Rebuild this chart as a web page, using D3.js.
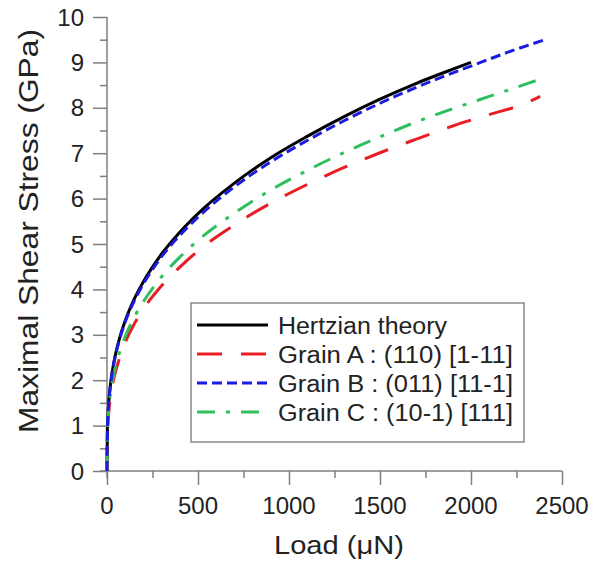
<!DOCTYPE html>
<html><head><meta charset="utf-8">
<script src="https://cdn.jsdelivr.net/npm/d3@7"></script>
<style>body{margin:0;background:#fff;} svg{display:block;font-family:"Liberation Sans",Arial,sans-serif;}</style>
</head><body>
<svg id="c" width="608" height="562"></svg>
<script>
const loads = [0,2,5,10,20,40,70,100,150,200,300,400,500,700,900,1100,1300,1500,1700,1900,2000];
const hertz = [0,0.9,1.22,1.54,1.94,2.44,2.94,3.31,3.79,4.17,4.78,5.26,5.67,6.34,6.90,7.37,7.80,8.19,8.54,8.85,9.00];

const loadsB = [0,2,5,10,20,40,70,100,150,200,300,400,500,700,900,1100,1300,1500,1700,1900,2000,2200,2420];
const grainB = [0,0.88,1.2,1.52,1.92,2.42,2.91,3.28,3.75,4.12,4.72,5.19,5.59,6.26,6.81,7.28,7.71,8.10,8.45,8.77,8.92,9.22,9.52];

const loadsA = [0,2,5,10,20,40,70,100,150,200,300,400,500,700,900,1100,1300,1500,1700,1900,2100,2300,2380];
const grainA = [0,0.77,1.04,1.31,1.66,2.08,2.5,2.83,3.24,3.57,4.08,4.49,4.85,5.42,5.90,6.31,6.68,7.01,7.31,7.60,7.85,8.10,8.25];

const loadsC = [0,2,5,10,20,40,70,100,150,200,300,400,500,700,900,1100,1300,1500,1700,1900,2100,2300,2400];
const grainC = [0,0.8,1.09,1.38,1.74,2.18,2.63,2.96,3.39,3.73,4.28,4.71,5.08,5.68,6.19,6.62,7.01,7.36,7.69,7.98,8.25,8.52,8.66];

const xTicks = [0,500,1000,1500,2000,2500];
const yTicks = [0,1,2,3,4,5,6,7,8,9,10];
const legendLabels = ["Hertzian theory","Grain A : (110) [1-11]","Grain B : (011) [11-1]","Grain C : (10-1) [111]"];

const svg = d3.select("#c");
const x = d3.scaleLinear().domain([0,2500]).range([107,562]);
const y = d3.scaleLinear().domain([0,10]).range([471,17]);
const axisColor = "#7f7f7f";

// Axes
const gx = svg.append("g").attr("transform","translate(0,471)");
gx.call(d3.axisBottom(x).tickValues(d3.range(0,2501,250)).tickSize(7).tickFormat(""));
gx.selectAll(".tick line").attr("y2",(d)=> d%500===0?14:7);
gx.selectAll("path").attr("stroke",axisColor).attr("stroke-width",1.5).attr("d","M100,0H562");
gx.selectAll(".tick line").attr("stroke",axisColor).attr("stroke-width",1.5);
gx.selectAll(".tick text").remove();
xTicks.forEach(t=>{
  svg.append("text").attr("x",x(t)).attr("y",514).attr("text-anchor","middle")
    .attr("font-size",24).attr("fill","#222").text(t);
});

const gy = svg.append("g").attr("transform","translate(107,0)");
gy.call(d3.axisLeft(y).tickValues(d3.range(0,10.01,0.5)).tickSize(7).tickFormat(""));
gy.selectAll(".tick line").attr("x2",(d)=> Math.abs(d-Math.round(d))<1e-6?-14:-7);
gy.selectAll("path").attr("stroke",axisColor).attr("stroke-width",1.5).attr("d","M0,17V478");
gy.selectAll(".tick line").attr("stroke",axisColor).attr("stroke-width",1.5);
yTicks.forEach(t=>{
  svg.append("text").attr("x",84).attr("y",y(t)+8.5).attr("text-anchor","end")
    .attr("font-size",24).attr("fill","#222").text(t);
});

// Axis titles
svg.append("text").attr("x",339).attr("y",554).attr("text-anchor","middle")
  .attr("font-size",26).attr("fill","#222").attr("textLength",130).attr("lengthAdjust","spacingAndGlyphs").text("Load (μN)");
svg.append("text").attr("transform","translate(38,231) rotate(-90)").attr("text-anchor","middle")
  .attr("font-size",28).attr("fill","#222").attr("textLength",404).attr("lengthAdjust","spacingAndGlyphs").text("Maximal Shear Stress (GPa)");

// Series
const series = [
  {xs:loads, ys:hertz, color:"#000000", dash:null},
  {xs:loadsA, ys:grainA, color:"#ea1c24", dash:"25,19"},
  {xs:loadsC, ys:grainC, color:"#2fbf5f", dash:"18,11,4,11"},
  {xs:loadsB, ys:grainB, color:"#1c1ce0", dash:"10,5"}
];
const line = d3.line().x(d=>x(d[0])).y(d=>y(d[1])).curve(d3.curveMonotoneX);
series.forEach(s=>{
  const pts = s.xs.map((v,i)=>[v,s.ys[i]]);
  svg.append("path").datum(pts).attr("d",line).attr("fill","none")
    .attr("stroke",s.color).attr("stroke-width",3)
    .attr("stroke-dasharray",s.dash);
});

// Legend
const legendWidths = [169,235,235,235];
const lg = svg.append("g");
lg.append("rect").attr("x",191).attr("y",303).attr("width",333).attr("height",139)
  .attr("fill","#fff").attr("stroke","#8a8a8a").attr("stroke-width",1.5);
const legendStyles = [series[0],series[1],series[3],series[2]];
legendLabels.forEach((lab,i)=>{
  const cy = 325 + i*29;
  const st = legendStyles[i];
  lg.append("line").attr("x1",197).attr("x2",268).attr("y1",cy).attr("y2",cy)
    .attr("stroke",st.color).attr("stroke-width",3).attr("stroke-dasharray",st.dash);
  lg.append("text").attr("x",278).attr("y",cy+8.5).attr("font-size",23.5).attr("fill","#222")
    .attr("textLength",legendWidths[i]).attr("lengthAdjust","spacingAndGlyphs").text(lab);
});
</script>
</body></html>
